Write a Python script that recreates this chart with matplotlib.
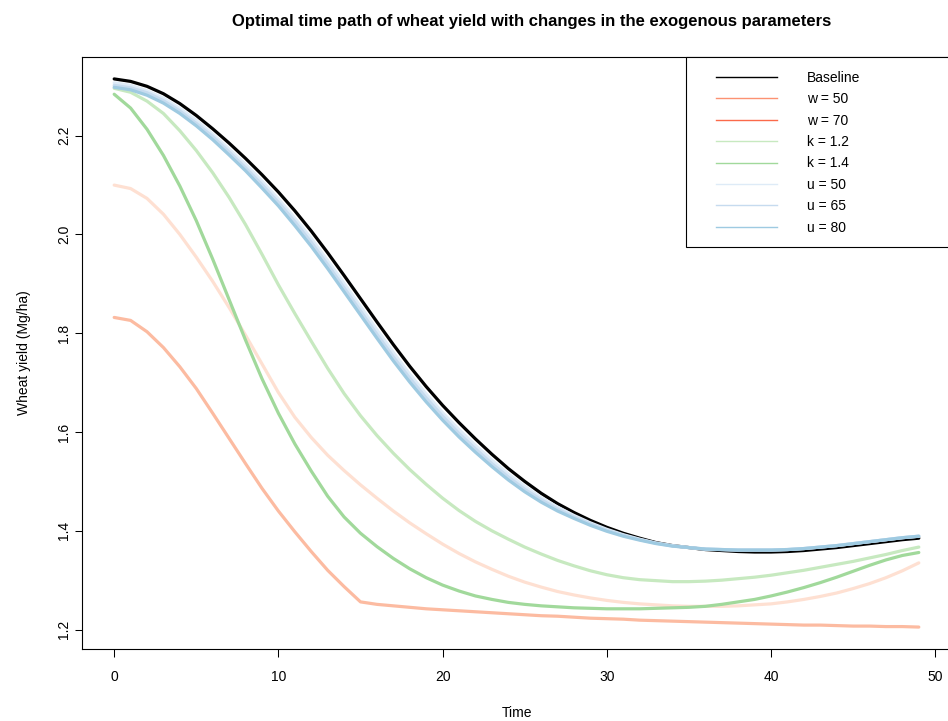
import matplotlib
matplotlib.use("Agg")
import matplotlib.pyplot as plt
from matplotlib.lines import Line2D
from matplotlib.patches import Rectangle

plt.rcParams['font.family'] = ['Liberation Sans', 'DejaVu Sans']

# ---- data -------------------------------------------------------------
time = list(range(50))

baseline = [2.315, 2.310, 2.300, 2.285, 2.265, 2.241, 2.214, 2.185, 2.154, 2.121,
            2.086, 2.048, 2.007, 1.963, 1.917, 1.870, 1.823, 1.777, 1.733, 1.692,
            1.654, 1.619, 1.586, 1.555, 1.526, 1.500, 1.476, 1.455, 1.437, 1.421,
            1.407, 1.395, 1.385, 1.376, 1.370, 1.366, 1.362, 1.360, 1.358, 1.357,
            1.357, 1.358, 1.360, 1.363, 1.366, 1.370, 1.374, 1.378, 1.382, 1.385]

w50 = [2.100, 2.093, 2.073, 2.041, 2.000, 1.954, 1.905, 1.852, 1.796, 1.738,
       1.680, 1.630, 1.589, 1.553, 1.522, 1.493, 1.466, 1.440, 1.416, 1.394,
       1.373, 1.354, 1.337, 1.322, 1.308, 1.296, 1.286, 1.277, 1.270, 1.264,
       1.259, 1.255, 1.252, 1.250, 1.248, 1.247, 1.247, 1.247, 1.248, 1.250,
       1.252, 1.256, 1.261, 1.267, 1.274, 1.283, 1.293, 1.305, 1.319, 1.335]

w70 = [1.832, 1.826, 1.803, 1.771, 1.732, 1.688, 1.638, 1.587, 1.536, 1.486,
       1.440, 1.398, 1.358, 1.320, 1.287, 1.256, 1.251, 1.248, 1.245, 1.242,
       1.240, 1.238, 1.236, 1.234, 1.232, 1.230, 1.228, 1.227, 1.225, 1.223,
       1.222, 1.221, 1.219, 1.218, 1.217, 1.216, 1.215, 1.214, 1.213, 1.212,
       1.211, 1.210, 1.209, 1.209, 1.208, 1.207, 1.207, 1.206, 1.206, 1.205]

k12 = [2.296, 2.288, 2.270, 2.245, 2.210, 2.170, 2.125, 2.075, 2.020, 1.960,
       1.898, 1.840, 1.784, 1.729, 1.678, 1.633, 1.593, 1.557, 1.524, 1.494,
       1.466, 1.441, 1.419, 1.400, 1.383, 1.367, 1.353, 1.340, 1.329, 1.319,
       1.311, 1.305, 1.301, 1.299, 1.297, 1.297, 1.298, 1.300, 1.303, 1.306,
       1.310, 1.315, 1.320, 1.326, 1.332, 1.338, 1.345, 1.352, 1.360, 1.367]

k14 = [2.284, 2.256, 2.213, 2.160, 2.098, 2.028, 1.950, 1.868, 1.786, 1.708,
       1.638, 1.576, 1.521, 1.470, 1.428, 1.395, 1.368, 1.344, 1.323, 1.305,
       1.290, 1.278, 1.268, 1.261, 1.255, 1.251, 1.248, 1.246, 1.244, 1.243,
       1.242, 1.242, 1.242, 1.243, 1.244, 1.245, 1.247, 1.251, 1.256, 1.261,
       1.268, 1.276, 1.285, 1.295, 1.306, 1.318, 1.330, 1.341, 1.350, 1.356]

u50 = [2.307, 2.302, 2.291, 2.276, 2.255, 2.231, 2.203, 2.173, 2.142, 2.108,
       2.072, 2.033, 1.992, 1.947, 1.901, 1.854, 1.807, 1.761, 1.717, 1.677,
       1.639, 1.605, 1.573, 1.543, 1.515, 1.490, 1.467, 1.448, 1.431, 1.416,
       1.403, 1.392, 1.383, 1.375, 1.370, 1.366, 1.363, 1.362, 1.361, 1.361,
       1.361, 1.362, 1.364, 1.367, 1.370, 1.374, 1.378, 1.382, 1.386, 1.389]

u65 = [2.302, 2.297, 2.287, 2.271, 2.250, 2.225, 2.198, 2.167, 2.135, 2.101,
       2.065, 2.026, 1.984, 1.939, 1.892, 1.845, 1.798, 1.752, 1.709, 1.669,
       1.632, 1.597, 1.566, 1.536, 1.509, 1.484, 1.463, 1.444, 1.428, 1.414,
       1.401, 1.391, 1.382, 1.375, 1.369, 1.366, 1.363, 1.362, 1.361, 1.361,
       1.361, 1.362, 1.364, 1.367, 1.370, 1.374, 1.378, 1.382, 1.386, 1.389]

u80 = [2.298, 2.293, 2.282, 2.266, 2.245, 2.220, 2.192, 2.161, 2.129, 2.094,
       2.058, 2.018, 1.976, 1.931, 1.884, 1.837, 1.790, 1.744, 1.701, 1.661,
       1.624, 1.590, 1.559, 1.530, 1.503, 1.479, 1.458, 1.440, 1.425, 1.411,
       1.399, 1.389, 1.381, 1.374, 1.369, 1.366, 1.363, 1.362, 1.361, 1.361,
       1.361, 1.362, 1.364, 1.367, 1.370, 1.374, 1.378, 1.382, 1.386, 1.389]

labels = ["Baseline", "w = 50", "w = 70", "k = 1.2", "k = 1.4",
          "u = 50", "u = 65", "u = 80"]
values = [baseline, w50, w70, k12, k14, u50, u65, u80]
line_colors = ["#000000", "#FEE0D2", "#FCBBA1", "#C7E9C0", "#A1D99B",
               "#DEEBF7", "#C6DBEF", "#9ECAE1"]
legend_colors = ["#000000", "#FC9272", "#FB6A4A", "#C7E9C0", "#A1D99B",
                 "#DEEBF7", "#C6DBEF", "#9ECAE1"]

x_ticks = [0, 10, 20, 30, 40, 50]
y_ticks = [1.2, 1.4, 1.6, 1.8, 2.0, 2.2]

# ---- figure / plot region (pixel layout) ---------------------------------
W, H = 948, 721
fig = plt.figure(figsize=(W / 100, H / 100), dpi=100)
px_left, px_right, px_top, px_bottom = 82, 951, 57, 649
ax = fig.add_axes([px_left / W, 1 - px_bottom / H,
                   (px_right - px_left) / W, (px_bottom - px_top) / H])

for vals, col in zip(values, line_colors):
    ax.plot(time, vals, color=col, lw=2.3,
            solid_capstyle="round", solid_joinstyle="round")

# 4% padding on each side, as in base R graphics
xmin, xmax = min(time), max(time)
all_vals = [v for s in values for v in s]
ymin, ymax = min(all_vals), max(all_vals)
ax.set_xlim(xmin - 0.04 * (xmax - xmin), xmax + 0.04 * (xmax - xmin))
ax.set_ylim(ymin - 0.04 * (ymax - ymin), ymax + 0.04 * (ymax - ymin))

fs = 10.0
ax.set_xticks(x_ticks)
ax.set_xticklabels([str(t) for t in x_ticks])
ax.set_yticks(y_ticks)
ax.set_yticklabels([f"{v:.1f}" for v in y_ticks])
ax.tick_params(axis="both", length=5.4, width=0.75, labelsize=fs, color="black")
ax.tick_params(axis="x", pad=10)
ax.tick_params(axis="y", pad=2.5)
for lab in ax.get_yticklabels():
    lab.set_rotation(90)
    lab.set_verticalalignment("center")
    lab.set_horizontalalignment("right")

for side in ["left", "bottom", "top", "right"]:
    ax.spines[side].set_linewidth(0.8)
    ax.spines[side].set_color("black")

title = ax.set_title("Optimal time path of wheat yield with changes in the exogenous parameters",
                     fontsize=12, fontweight="bold", pad=22.3)
title.set_x(0.5 + 15 / (px_right - px_left))
ax.set_xlabel("Time", fontsize=fs)
ax.xaxis.set_label_coords(0.5, -0.097)
ax.set_ylabel("Wheat yield (Mg/ha)", fontsize=fs)
ax.yaxis.set_label_coords(-0.0583, 0.5)

# ---- legend ----------------------------------------------------------------
frame = Rectangle((686 / W, 1 - 247 / H), (px_right - 686) / W, (247 - 57) / H,
                  transform=fig.transFigure, facecolor="white", edgecolor="black",
                  linewidth=0.8, zorder=4, clip_on=False)
ax.add_patch(frame)
handles = [Line2D([], [], color=c, lw=1.0) for c in legend_colors]
leg = ax.legend(handles, labels, loc="upper left",
                bbox_to_anchor=(716 / W, 1 - 71 / H), bbox_transform=fig.transFigure,
                frameon=False, borderpad=0, borderaxespad=0, handlelength=4.4,
                handletextpad=2.16, labelspacing=0.53, fontsize=fs)
leg.set_zorder(5)

fig.savefig("out.png", dpi=100)
